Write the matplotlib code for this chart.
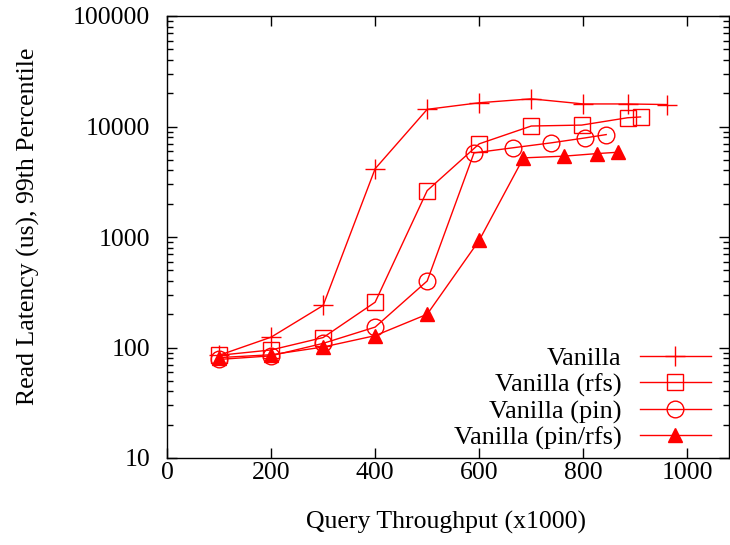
import numpy as np
import matplotlib
matplotlib.use("Agg")
import matplotlib.pyplot as plt
from matplotlib.ticker import LogLocator, NullFormatter, FixedLocator

plt.rcParams['font.family'] = ['Liberation Serif', 'DejaVu Serif']
plt.rcParams['font.size'] = 18.5

# Vanilla
x_van = [100, 200, 300, 400, 500, 600, 700, 800, 885, 960]
y_van = [85, 124, 240, 4150, 14300, 16400, 17800, 16000, 16000, 15800]

# Vanilla (rfs)
x_rfs = [100, 200, 300, 400, 500, 600, 700, 797, 885, 910]
y_rfs = [85, 95, 123, 257, 2630, 6970, 10100, 10300, 12000, 12200]

# Vanilla (pin)
x_pin = [100, 200, 300, 400, 500, 590, 664, 738, 804, 844]
y_pin = [78, 84, 109, 153, 400, 5770, 6410, 7110, 7890, 8450]

# Vanilla (pin/rfs)
x_pr = [100, 200, 300, 400, 500, 600, 685, 763, 827, 867]
y_pr = [81, 86, 101, 128, 200, 933, 5200, 5390, 5690, 5850]

red = '#ff0000'

fig = plt.figure(figsize=(7.3, 5.45), dpi=100)
ax = fig.add_axes([167/730, 1 - 458/545, 562/730, 442/545])

ax.plot(x_van, y_van, '-', color=red, lw=1, marker='+', ms=14, mew=1,
        label='Vanilla')
ax.plot(x_rfs, y_rfs, '-', color=red, lw=1, marker='s', ms=12, mew=1,
        mfc='none', label='Vanilla (rfs)')
ax.plot(x_pin, y_pin, '-', color=red, lw=1, marker='o', ms=12, mew=1,
        mfc='none', label='Vanilla (pin)')
ax.plot(x_pr, y_pr, '-', color=red, lw=1, marker='^', ms=10, mew=1,
        label='Vanilla (pin/rfs)')

ax.set_yscale('log')
ax.set_ylim(10, 100000)
ax.set_xlim(0, 1080)
ax.xaxis.set_major_locator(FixedLocator([0, 200, 400, 600, 800, 1000]))
ax.yaxis.set_major_locator(FixedLocator([10, 100, 1000, 10000, 100000]))
ax.set_yticklabels(['10', '100', '1000', '10000', '100000'])
ax.yaxis.set_minor_locator(LogLocator(base=10, subs=np.arange(2, 10)))
ax.yaxis.set_minor_formatter(NullFormatter())

ax.tick_params(which='both', direction='in', top=True, right=True)
ax.tick_params(which='major', length=7, width=1)
ax.tick_params(which='minor', length=4, width=1)
ax.tick_params(axis='x', pad=3)
ax.tick_params(axis='y', pad=12)
for s in ax.spines.values():
    s.set_linewidth(1)

ax.set_xlabel('Query Throughput (x1000)')
ax.set_ylabel('Read Latency (us), 99th Percentile')
ax.xaxis.label.set_va('center')
ax.yaxis.label.set_va('center')
ax.xaxis.set_label_coords((446 - 167) / 562, (458 - 522) / 442)
ax.yaxis.set_label_coords((28 - 167) / 562, (458 - 226) / 442)

ax.legend(loc='lower right', bbox_to_anchor=((719 - 167) / 562, 0.0),
          frameon=False, markerfirst=False, fontsize=19, handlelength=2.7,
          labelspacing=0.1, handletextpad=0.7, borderaxespad=0.1,
          borderpad=0.2)

fig.savefig('out.png', dpi=100)
